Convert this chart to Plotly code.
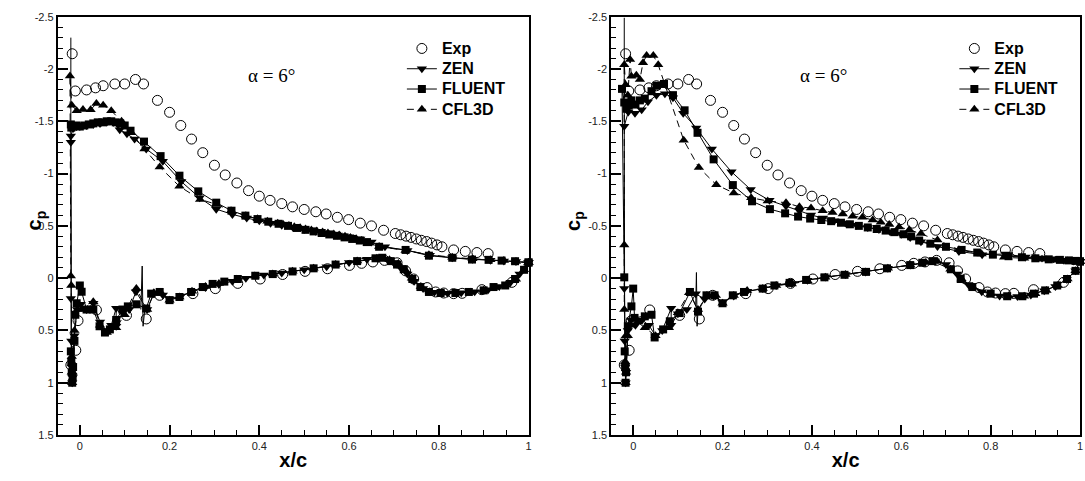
import plotly.graph_objects as go

# ---------------- Experimental data (same in both panels) ----------------
exp_upper_x = [-0.017, -0.01, 0.015, 0.035, 0.052, 0.078, 0.10, 0.124, 0.142, 0.173,
               0.20, 0.225, 0.249, 0.274, 0.30, 0.324, 0.35, 0.376, 0.40, 0.424,
               0.45, 0.474, 0.50, 0.526, 0.549, 0.574, 0.599, 0.625, 0.65, 0.677,
               0.703, 0.715, 0.727, 0.738, 0.75, 0.761, 0.773, 0.784, 0.796, 0.807,
               0.833, 0.859, 0.885, 0.91]
exp_upper_cp = [-2.146, -1.79, -1.80, -1.82, -1.84, -1.857, -1.857, -1.90, -1.857, -1.70,
                -1.586, -1.46, -1.33, -1.20, -1.08, -0.987, -0.91, -0.837, -0.784, -0.744,
                -0.713, -0.682, -0.657, -0.635, -0.614, -0.582, -0.56, -0.526, -0.5, -0.458,
                -0.427, -0.415, -0.402, -0.39, -0.375, -0.362, -0.35, -0.335, -0.318, -0.3,
                -0.27, -0.256, -0.245, -0.235]
exp_lower_x = [-0.02, -0.009, -0.004, 0.037, 0.104, 0.148, 0.178, 0.252, 0.302, 0.352,
               0.402, 0.452, 0.502, 0.552, 0.601, 0.628, 0.653, 0.679, 0.707, 0.726,
               0.744, 0.774, 0.793, 0.811, 0.833, 0.852, 0.896, 0.963]
exp_lower_cp = [0.83, 0.69, 0.406, 0.304, 0.356, 0.39, 0.164, 0.148, 0.10, 0.05,
                0.008, -0.035, -0.065, -0.09, -0.122, -0.142, -0.155, -0.17, -0.147, -0.07,
                0.008, 0.09, 0.132, 0.142, 0.148, 0.145, 0.11, 0.04]

# ---------------- Left panel CFD ----------------
zen_l_upper_x = [-0.02, -0.02, -0.015, -0.008, 0.0, 0.015, 0.03, 0.045, 0.06, 0.075,
                 0.085, 0.089, 0.105, 0.122, 0.148, 0.185, 0.226, 0.267, 0.304, 0.34,
                 0.372, 0.40, 0.425, 0.45, 0.475, 0.5, 0.525, 0.55, 0.575, 0.6,
                 0.625, 0.65, 0.68, 0.73, 0.78, 0.83, 0.875, 0.915, 0.945, 0.972, 1.0]
zen_l_upper_cp = [-1.30, -1.36, -1.43, -1.45, -1.45, -1.46, -1.47, -1.48, -1.49, -1.49,
                  -1.47, -1.42, -1.38, -1.33, -1.235, -1.117, -0.924, -0.769, -0.66, -0.61,
                  -0.575, -0.548, -0.525, -0.505, -0.485, -0.465, -0.448, -0.43, -0.412, -0.395,
                  -0.375, -0.345, -0.30, -0.265, -0.22, -0.195, -0.18, -0.172, -0.165, -0.16, -0.15]
zen_l_lower_x = [-0.02, -0.019, -0.018, -0.017, -0.016, -0.012, -0.006, 0.002, 0.015, 0.03,
                 0.045, 0.058, 0.07, 0.081, 0.081, 0.095, 0.11, 0.125, 0.15, 0.165,
                 0.185, 0.2, 0.225, 0.25, 0.28, 0.31, 0.34, 0.37, 0.41, 0.45,
                 0.5, 0.55, 0.6, 0.64, 0.665, 0.685, 0.7, 0.715, 0.73, 0.745,
                 0.765, 0.79, 0.82, 0.85, 0.88, 0.91, 0.935, 0.96, 0.98, 1.0]
zen_l_lower_cp = [0.195, 0.6, 0.85, 1.0, 0.95, 0.55, 0.3, 0.25, 0.3, 0.24,
                  0.42, 0.5, 0.45, 0.288, 0.46, 0.33, 0.3, 0.13, 0.3, 0.15,
                  0.16, 0.2, 0.17, 0.13, 0.09, 0.06, 0.03, 0.0, -0.03, -0.05,
                  -0.08, -0.11, -0.15, -0.18, -0.19, -0.18, -0.15, -0.1, -0.04, 0.03,
                  0.1, 0.135, 0.145, 0.14, 0.13, 0.11, 0.08, 0.04, -0.04, -0.15]

fluent_l_upper_x = [-0.02, -0.019, -0.015, -0.008, 0.0, 0.01, 0.02, 0.03, 0.04, 0.05,
                    0.06, 0.07, 0.08, 0.09, 0.1, 0.113, 0.143, 0.18, 0.222, 0.264,
                    0.304, 0.338, 0.369, 0.396, 0.42, 0.443, 0.464, 0.484, 0.503, 0.521,
                    0.539, 0.556, 0.573, 0.59, 0.607, 0.624, 0.64, 0.667, 0.726, 0.778,
                    0.83, 0.874, 0.911, 0.94, 0.97, 1.0]
fluent_l_upper_cp = [-1.47, -1.44, -1.45, -1.46, -1.45, -1.46, -1.47, -1.48, -1.49, -1.49,
                     -1.50, -1.50, -1.49, -1.48, -1.46, -1.41, -1.306, -1.167, -0.98, -0.83,
                     -0.722, -0.645, -0.598, -0.565, -0.54, -0.52, -0.50, -0.48, -0.462, -0.447,
                     -0.432, -0.418, -0.405, -0.39, -0.375, -0.36, -0.345, -0.30, -0.27, -0.215,
                     -0.195, -0.178, -0.175, -0.168, -0.162, -0.15]
fluent_l_lower_x = [-0.02, -0.019, -0.018, -0.017, -0.016, -0.015, -0.012, -0.01, -0.007, 0.0,
                    0.004, 0.015, 0.03, 0.044, 0.056, 0.067, 0.081, 0.095, 0.107, 0.126,
                    0.148, 0.159, 0.178, 0.2, 0.222, 0.248, 0.274, 0.296, 0.322, 0.352,
                    0.391, 0.43, 0.474, 0.521, 0.57, 0.618, 0.659, 0.674, 0.693, 0.707,
                    0.722, 0.741, 0.759, 0.778, 0.804, 0.837, 0.867, 0.9, 0.922, 0.948,
                    0.97, 0.99, 1.0]
fluent_l_lower_cp = [0.7, 0.8, 0.9, 1.0, 0.95, 0.85, 0.6, 0.35, 0.24, 0.07,
                     0.13, 0.30, 0.30, 0.46, 0.52, 0.49, 0.40, 0.30, 0.27, 0.25,
                     0.29, 0.148, 0.132, 0.21, 0.18, 0.132, 0.085, 0.055, 0.033, 0.008,
                     -0.023, -0.039, -0.064, -0.094, -0.13, -0.163, -0.19, -0.195, -0.163, -0.13,
                     -0.085, 0.008, 0.085, 0.132, 0.142, 0.142, 0.132, 0.117, 0.085, 0.07,
                     0.008, -0.08, -0.15]

cfl3d_l_upper_x = [-0.022, -0.018, -0.007, 0.007, 0.024, 0.037, 0.052, 0.07, 0.093, 0.115,
                   0.144, 0.178, 0.222, 0.268, 0.304, 0.337, 0.37, 0.396, 0.418, 0.441,
                   0.453, 0.466, 0.478, 0.491, 0.503, 0.516, 0.528, 0.541, 0.553, 0.566,
                   0.578, 0.591, 0.603, 0.616, 0.628, 0.641, 0.667, 0.726, 0.778, 0.83,
                   0.875, 0.915, 0.945, 0.972, 1.0]
cfl3d_l_upper_cp = [-1.934, -1.654, -1.602, -1.614, -1.61, -1.67, -1.654, -1.602, -1.50, -1.39,
                    -1.235, -1.064, -0.878, -0.753, -0.707, -0.644, -0.598, -0.567, -0.545, -0.526,
                    -0.515, -0.503, -0.492, -0.482, -0.47, -0.461, -0.452, -0.442, -0.432, -0.423,
                    -0.412, -0.402, -0.39, -0.376, -0.36, -0.334, -0.302, -0.265, -0.225, -0.2,
                    -0.185, -0.175, -0.168, -0.16, -0.15]
cfl3d_l_lower_x = [-0.02, -0.019, -0.018, -0.018, -0.017, -0.016, -0.012, -0.005, 0.005, 0.03,
                   0.045, 0.06, 0.081, 0.1, 0.126, 0.15, 0.165, 0.18, 0.2, 0.222,
                   0.25, 0.28, 0.31, 0.35, 0.39, 0.43, 0.474, 0.521, 0.57, 0.618,
                   0.662, 0.69, 0.71, 0.725, 0.74, 0.76, 0.78, 0.81, 0.84, 0.87,
                   0.9, 0.925, 0.95, 0.972, 0.99, 1.0]
cfl3d_l_lower_cp = [-0.02, 0.07, 0.75, 0.9, 1.0, 0.9, 0.5, 0.3, 0.3, 0.226,
                    0.45, 0.52, 0.474, 0.35, 0.10, 0.3, 0.14, 0.14, 0.21, 0.18,
                    0.125, 0.08, 0.05, 0.01, -0.02, -0.04, -0.065, -0.095, -0.13, -0.165,
                    -0.19, -0.175, -0.14, -0.08, 0.0, 0.08, 0.13, 0.142, 0.142, 0.135,
                    0.115, 0.09, 0.065, 0.01, -0.08, -0.15]

# unmarked line segments (leading-edge line and spike) in the left panel
le_line_l_x = [-0.02, -0.02]
le_line_l_cp = [-2.3, -1.47]
spike_l_x = [0.136, 0.139, 0.141, 0.145]
spike_l_cp = [0.30, -0.116, 0.46, 0.29]

# ---------------- Right panel CFD ----------------
zen_r_upper_x = [-0.02, -0.011, 0.004, 0.019, 0.033, 0.052, 0.071, 0.089, 0.112, 0.141,
                 0.176, 0.22, 0.263, 0.305, 0.342, 0.372, 0.398, 0.425, 0.45, 0.475,
                 0.5, 0.525, 0.55, 0.575, 0.6, 0.62, 0.644, 0.681, 0.729, 0.781,
                 0.833, 0.878, 0.915, 0.941, 0.964, 0.986, 1.0]
zen_r_upper_cp = [-1.453, -1.59, -1.577, -1.61, -1.686, -1.748, -1.763, -1.726, -1.577, -1.437,
                  -1.235, -1.017, -0.847, -0.744, -0.69, -0.644, -0.604, -0.575, -0.55, -0.528,
                  -0.505, -0.485, -0.465, -0.445, -0.42, -0.39, -0.349, -0.302, -0.256, -0.225,
                  -0.231, -0.203, -0.194, -0.185, -0.172, -0.163, -0.16]
zen_r_lower_x = [-0.02, -0.019, -0.018, -0.017, -0.016, -0.012, -0.005, 0.005, 0.02, 0.035,
                 0.05, 0.065, 0.085, 0.085, 0.1, 0.12, 0.14, 0.16, 0.18, 0.2,
                 0.225, 0.255, 0.29, 0.32, 0.355, 0.39, 0.43, 0.475, 0.52, 0.57,
                 0.62, 0.65, 0.675, 0.7, 0.725, 0.75, 0.78, 0.82, 0.86, 0.89,
                 0.92, 0.945, 0.97, 0.99, 1.0]
zen_r_lower_cp = [0.10, 0.6, 0.85, 1.0, 0.9, 0.5, 0.4, 0.45, 0.4, 0.45,
                  0.55, 0.5, 0.288, 0.45, 0.34, 0.3, 0.15, 0.2, 0.17, 0.23,
                  0.17, 0.125, 0.1, 0.07, 0.05, 0.02, -0.01, -0.035, -0.06, -0.095,
                  -0.125, -0.15, -0.165, -0.13, -0.04, 0.06, 0.13, 0.17, 0.175, 0.16,
                  0.12, 0.08, 0.01, -0.07, -0.16]

fluent_r_upper_x = [-0.025, -0.02, -0.015, -0.01, -0.004, 0.005, 0.015, 0.026, 0.041, 0.052,
                    0.069, 0.089, 0.115, 0.144, 0.18, 0.223, 0.266, 0.306, 0.34, 0.369,
                    0.396, 0.421, 0.443, 0.465, 0.485, 0.505, 0.525, 0.545, 0.565, 0.585,
                    0.605, 0.622, 0.64, 0.665, 0.7, 0.735, 0.77, 0.805, 0.84, 0.87,
                    0.9, 0.93, 0.955, 0.975, 0.99, 1.0]
fluent_r_upper_cp = [-1.81, -1.68, -1.62, -1.65, -1.70, -1.66, -1.70, -1.717, -1.788, -1.84,
                     -1.857, -1.75, -1.605, -1.39, -1.136, -0.89, -0.735, -0.66, -0.62, -0.589,
                     -0.57, -0.556, -0.545, -0.53, -0.515, -0.5, -0.485, -0.47, -0.455, -0.44,
                     -0.42, -0.4, -0.36, -0.33, -0.3, -0.27, -0.245, -0.225, -0.21, -0.2,
                     -0.19, -0.18, -0.175, -0.17, -0.165, -0.16]
fluent_r_lower_x = [-0.02, -0.019, -0.018, -0.017, -0.016, -0.012, -0.004, 0.0, 0.003, 0.026,
                    0.041, 0.048, 0.067, 0.082, 0.104, 0.127, 0.145, 0.164, 0.182, 0.2,
                    0.223, 0.248, 0.29, 0.316, 0.35, 0.387, 0.428, 0.473, 0.521, 0.568,
                    0.62, 0.647, 0.67, 0.711, 0.733, 0.759, 0.8, 0.837, 0.871, 0.897,
                    0.922, 0.949, 0.971, 0.99, 1.0]
fluent_r_lower_cp = [-0.008, 0.7, 0.85, 1.0, 0.9, 0.46, 0.27, 0.10, 0.38, 0.365,
                     0.35, 0.567, 0.49, 0.412, 0.334, 0.132, 0.32, 0.164, 0.164, 0.24,
                     0.164, 0.132, 0.10, 0.07, 0.045, 0.017, -0.008, -0.032, -0.06, -0.094,
                     -0.125, -0.147, -0.163, -0.085, 0.008, 0.085, 0.148, 0.173, 0.173, 0.148,
                     0.117, 0.07, 0.008, -0.07, -0.16]

cfl3d_r_upper_x = [-0.02, -0.017, -0.012, -0.007, -0.004, 0.007, 0.015, 0.022, 0.03, 0.045,
                   0.056, 0.113, 0.147, 0.186, 0.225, 0.264, 0.301, 0.342, 0.372, 0.398,
                   0.424, 0.446, 0.469, 0.491, 0.513, 0.536, 0.554, 0.573, 0.595, 0.618,
                   0.644, 0.681, 0.729, 0.78, 0.83, 0.875, 0.915, 0.945, 0.972, 1.0]
cfl3d_r_upper_cp = [-2.04, -1.85, -1.75, -2.09, -1.93, -1.94, -1.9, -2.06, -2.13, -2.13,
                    -2.04, -1.32, -1.058, -0.893, -0.815, -0.768, -0.738, -0.722, -0.682, -0.67,
                    -0.644, -0.629, -0.614, -0.592, -0.582, -0.557, -0.535, -0.514, -0.489, -0.464,
                    -0.427, -0.365, -0.272, -0.23, -0.2, -0.19, -0.18, -0.172, -0.165, -0.16]
cfl3d_r_lower_x = [-0.02, -0.02, -0.017, -0.018, -0.017, -0.016, -0.012, -0.005, 0.01, 0.026,
                   0.05, 0.08, 0.1, 0.125, 0.145, 0.165, 0.185, 0.2, 0.225, 0.255,
                   0.29, 0.32, 0.355, 0.39, 0.43, 0.475, 0.52, 0.57, 0.62, 0.655,
                   0.68, 0.71, 0.735, 0.76, 0.8, 0.84, 0.875, 0.9, 0.925, 0.95,
                   0.972, 0.99, 1.0]
cfl3d_r_lower_cp = [-0.318, 0.3, 0.552, 0.8, 1.0, 0.9, 0.55, 0.45, 0.42, 0.474,
                    0.55, 0.474, 0.33, 0.14, 0.3, 0.165, 0.165, 0.24, 0.165, 0.117,
                    0.1, 0.07, 0.055, 0.024, -0.008, -0.035, -0.06, -0.094, -0.125, -0.15,
                    -0.165, -0.085, 0.008, 0.085, 0.148, 0.173, 0.173, 0.148, 0.117, 0.07,
                    0.008, -0.07, -0.16]

le_line_r_x = [-0.02, -0.02]
le_line_r_cp = [-2.49, -1.453]
spike_r_x = [0.14, 0.1415, 0.143, 0.145]
spike_r_cp = [0.25, -0.054, 0.46, 0.32]

# ---------------- Axis ticks / labels ----------------
x_tickvals = [0, 0.2, 0.4, 0.6, 0.8, 1.0]
x_ticktext = ["0", "0.2", "0.4", "0.6", "0.8", "1"]
y_tickvals = [-2.5, -2.0, -1.5, -1.0, -0.5, 0.0, 0.5, 1.0, 1.5]
y_ticktext = ["-2.5", "-2", "-1.5", "-1", "-0.5", "0", "0.5", "1", "1.5"]
alpha_label = "α = 6°"
series_names = ["Exp", "ZEN", "FLUENT", "CFL3D"]

W, H = 1085, 481
fig = go.Figure()


def loop(ux, uy, lx, ly):
    return list(reversed(ux)) + list(lx), list(reversed(uy)) + list(ly)


def legend_label(name):
    return '<span style="font-size:16px">' + name + '</span>'


def add_panel(xa, ya, legend, series, extras):
    ex, ey = loop(exp_upper_x, exp_upper_cp, exp_lower_x, exp_lower_cp)
    fig.add_trace(go.Scatter(x=ex, y=ey, mode="markers", name=legend_label(series_names[0]),
                             xaxis=xa, yaxis=ya, legend=legend, cliponaxis=False,
                             marker=dict(symbol="circle-open", size=10, color="black",
                                         line=dict(width=1, color="black"))))
    styles = {
        "ZEN": dict(symbol="triangle-down", size=9, dash="solid"),
        "FLUENT": dict(symbol="square", size=8, dash="solid"),
        "CFL3D": dict(symbol="triangle-up", size=9, dash="7px,5px"),
    }
    for name in series_names[1:]:
        ux, uy, lx, ly = series[name]
        st = styles[name]
        x, y = loop(ux, uy, lx, ly)
        fig.add_trace(go.Scatter(x=x, y=y, mode="lines+markers", name=legend_label(name),
                                 xaxis=xa, yaxis=ya, legend=legend, cliponaxis=False,
                                 line=dict(color="black", width=1, dash=st["dash"]),
                                 marker=dict(symbol=st["symbol"], size=st["size"], color="black")))
    for (x, y) in extras:
        fig.add_trace(go.Scatter(x=x, y=y, mode="lines", showlegend=False,
                                 xaxis=xa, yaxis=ya, hoverinfo="skip",
                                 line=dict(color="black", width=1)))


add_panel("x", "y", "legend",
          {"ZEN": (zen_l_upper_x, zen_l_upper_cp, zen_l_lower_x, zen_l_lower_cp),
           "FLUENT": (fluent_l_upper_x, fluent_l_upper_cp, fluent_l_lower_x, fluent_l_lower_cp),
           "CFL3D": (cfl3d_l_upper_x, cfl3d_l_upper_cp, cfl3d_l_lower_x, cfl3d_l_lower_cp)},
          [(le_line_l_x, le_line_l_cp), (spike_l_x, spike_l_cp)])
add_panel("x2", "y2", "legend2",
          {"ZEN": (zen_r_upper_x, zen_r_upper_cp, zen_r_lower_x, zen_r_lower_cp),
           "FLUENT": (fluent_r_upper_x, fluent_r_upper_cp, fluent_r_lower_x, fluent_r_lower_cp),
           "CFL3D": (cfl3d_r_upper_x, cfl3d_r_upper_cp, cfl3d_r_lower_x, cfl3d_r_lower_cp)},
          [(le_line_r_x, le_line_r_cp), (spike_r_x, spike_r_cp)])

SANS = "Liberation Sans, Arial, sans-serif"
tick_font = dict(family=SANS, size=11, color="#222")
title_font = dict(family=SANS, size=20, color="black", weight="bold")


def xaxis(domain, anchor):
    return dict(domain=domain, anchor=anchor, range=[-0.049, 1.0],
                tickmode="array", tickvals=x_tickvals, ticktext=x_ticktext,
                ticks="inside", ticklen=10, tickwidth=2, tickcolor="black",
                minor=dict(tickmode="linear", tick0=0, dtick=0.05, ticks="inside",
                           ticklen=5, tickwidth=1, tickcolor="black"),
                showline=True, linewidth=2, linecolor="black", mirror=True,
                showgrid=False, zeroline=False, tickfont=tick_font,
                title=dict(text="x/c", font=title_font, standoff=2))


def yaxis(anchor):
    return dict(domain=[1 - 440 / H, 1 - 11 / H], anchor=anchor, range=[1.5, -2.5],
                tickmode="array", tickvals=y_tickvals, ticktext=y_ticktext,
                ticks="inside", ticklen=10, tickwidth=2, tickcolor="black",
                minor=dict(tickmode="linear", tick0=0, dtick=0.1, ticks="inside",
                           ticklen=5, tickwidth=1, tickcolor="black"),
                showline=True, linewidth=2, linecolor="black", mirror=True,
                showgrid=False, zeroline=False, tickfont=tick_font)


legend_common = dict(xanchor="left", yanchor="top", y=1 - 28 / H,
                     bgcolor="rgba(0,0,0,0)", borderwidth=0, tracegroupgap=0,
                     font=dict(family=SANS, size=13.3, color="black", weight="bold"))

ylabel = dict(text="c<sub>p</sub>", showarrow=False, textangle=-90,
              xref="paper", yref="paper", y=1 - 220 / H,
              xanchor="center", yanchor="middle",
              font=dict(family=SANS, size=20, color="black", weight="bold"))
alpha_font = dict(family="Liberation Serif, Times New Roman, serif", size=19, color="black")

fig.update_layout(
    width=W, height=H,
    margin=dict(l=0, r=0, t=0, b=0),
    paper_bgcolor="white", plot_bgcolor="white",
    xaxis=xaxis([58 / W, 530 / W], "y"),
    yaxis=yaxis("x"),
    xaxis2=xaxis([613 / W, 1083 / W], "y2"),
    yaxis2=yaxis("x2"),
    legend=dict(x=403 / W, **legend_common),
    legend2=dict(x=957 / W, **legend_common),
    annotations=[
        dict(x=0.427, y=-1.94, xref="x", yref="y", text=alpha_label, showarrow=False,
             font=alpha_font),
        dict(x=0.427, y=-1.94, xref="x2", yref="y2", text=alpha_label, showarrow=False,
             font=alpha_font),
        dict(x=36 / W, **ylabel),
        dict(x=576 / W, **ylabel),
    ],
    showlegend=True,
)

fig.write_html("out.html")
